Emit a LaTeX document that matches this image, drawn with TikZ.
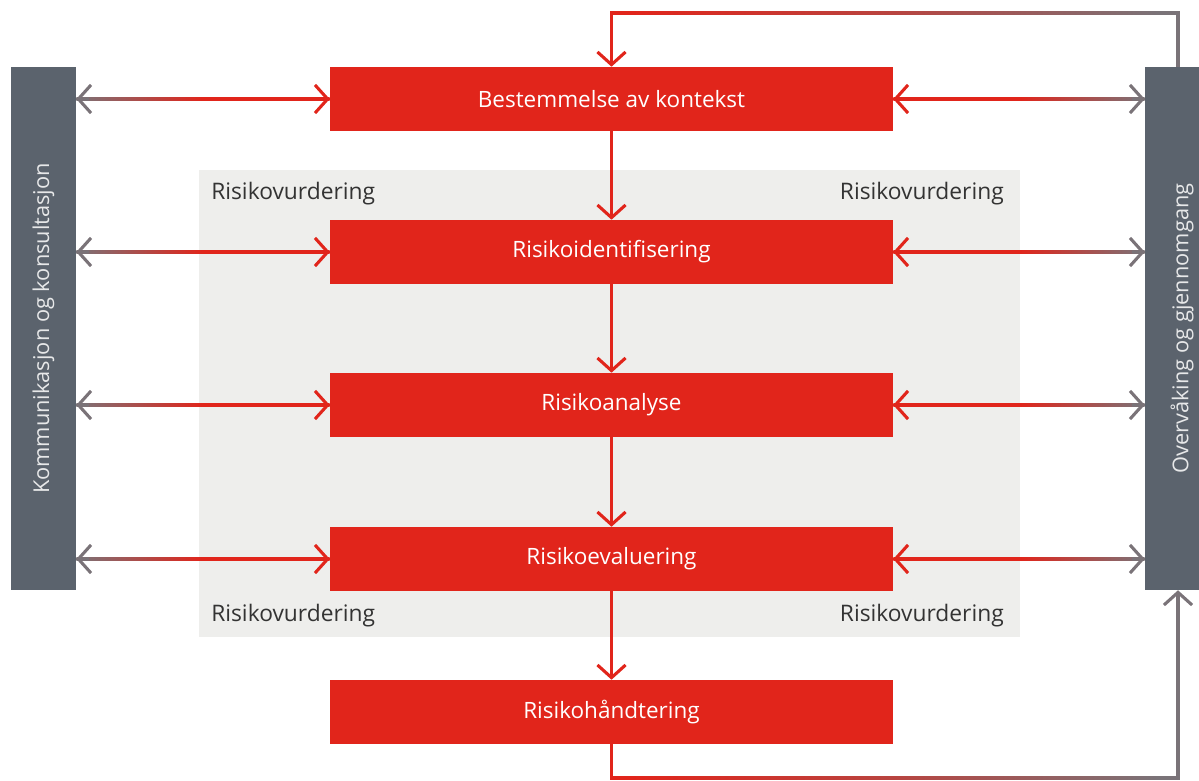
\documentclass[tikz,border=0pt]{standalone}
\usepackage{fontspec}
\usepackage{graphicx}
\setmainfont{Open Sans}
\usetikzlibrary{arrows.meta,calc}
\definecolor{riskred}{HTML}{E1251B}
\definecolor{bargrey}{HTML}{5B636D}
\definecolor{linegrey}{HTML}{7A7378}
\definecolor{panelgrey}{HTML}{EEEEEC}
\definecolor{labelgrey}{HTML}{333333}
\tikzset{
  stepbox/.style={fill=riskred,text=white,minimum width=563*0.025cm,minimum height=64*0.025cm,inner sep=0pt,font=\fontsize{16}{18}\selectfont},
  sidebar/.style={fill=bargrey,text=white!85!bargrey,minimum height=523*0.025cm,inner sep=0pt,font=\fontsize{15.5}{18}\selectfont},
  phase/.style={text=labelgrey,inner sep=0pt,font=\fontsize{16.2}{18}\selectfont},
  conn/.style={line width=2.2pt},
  tip/.style={-{Straight Barb[length=9pt,width=20pt]}},
}
% shaded line: left end, right end, left/middle/right colours
\newcommand\fadeline[5]{%
  \shade[left color=#3,right color=#5,middle color=#4]
    ($(#1)+(0,1.55)$) rectangle ($(#2)+(0,-1.55)$);}
\begin{document}
\begin{tikzpicture}[x=0.025cm,y=-0.025cm]
  \useasboundingbox (0,0) rectangle (1199,781);
  \fill[panelgrey] (199,170) rectangle (1020,637);
  \node[phase,anchor=west] (rv1) at (211,194) {Risikovurdering};
  \node[phase,anchor=east] (rv2) at (1004,194) {Risikovurdering};
  \node[phase,anchor=west] (rv3) at (211,616) {Risikovurdering};
  \node[phase,anchor=east] (rv4) at (1004,616) {Risikovurdering};

  \node[sidebar,minimum width=65*0.025cm] (kom) at (43.5,328.5) {\rotatebox{90}{Kommunikasjon og konsultasjon}};
  \node[sidebar,minimum width=74*0.025cm] (ovr) at (1182,328.5) {\rotatebox{90}{Overvåking og gjennomgang}};

  \node[stepbox] (ctx) at (611.5,99) {Bestemmelse av kontekst};
  \node[stepbox] (ident) at (611.5,252) {Risikoidentifisering};
  \node[stepbox] (anal) at (611.5,405) {Risikoanalyse};
  \node[stepbox] (eval) at (611.5,559) {Risikoevaluering};
  \node[stepbox] (treat) at (611.5,712) {Risikohåndtering};

  \draw[conn,riskred,tip] (ctx.south) -- (ident.north);
  \draw[conn,riskred,tip] (ident.south) -- (anal.north);
  \draw[conn,riskred,tip] (anal.south) -- (eval.north);
  \draw[conn,riskred,tip] (eval.south) -- (treat.north);

  \foreach \b in {ctx,ident,anal,eval}{
    \coordinate (l\b) at (\b.west -| kom.east);
    \coordinate (r\b) at (\b.east -| ovr.west);
    \fadeline{l\b}{\b.west}{linegrey}{riskred}{riskred}
    \fadeline{\b.east}{r\b}{riskred}{riskred}{linegrey}
    \draw[conn,linegrey,tip] ($(l\b)!0.05!(\b.west)$) -- (l\b);
    \draw[conn,riskred,tip] ($(l\b)!0.95!(\b.west)$) -- (\b.west);
    \draw[conn,riskred,tip] ($(\b.east)!0.05!(r\b)$) -- (\b.east);
    \draw[conn,linegrey,tip] ($(\b.east)!0.95!(r\b)$) -- (r\b);
  }

  % loop over the top
  \coordinate (tr) at (1178,13);
  \coordinate (tl) at (ctx.north |- tr);
  \draw[conn,linegrey] (tr |- ovr.north) -- (tr) -- ++(-20,0) coordinate (tra);
  \draw[conn,riskred,tip] ($(tl)+(20,0)$) coordinate (tla) -- (tl) -- (ctx.north);
  \fadeline{tla}{tra}{riskred}{riskred!60!linegrey}{linegrey}

  % loop at the bottom
  \coordinate (bl) at (treat.south |- 0,778);
  \coordinate (br) at (tr |- bl);
  \draw[conn,riskred] (treat.south) -- (bl) -- ++(20,0) coordinate (bla);
  \draw[conn,linegrey,tip] ($(br)+(-20,0)$) coordinate (bra) -- (br) -- (br |- ovr.south);
  \fadeline{bla}{bra}{riskred}{riskred!60!linegrey}{linegrey}
\end{tikzpicture}
\end{document}
